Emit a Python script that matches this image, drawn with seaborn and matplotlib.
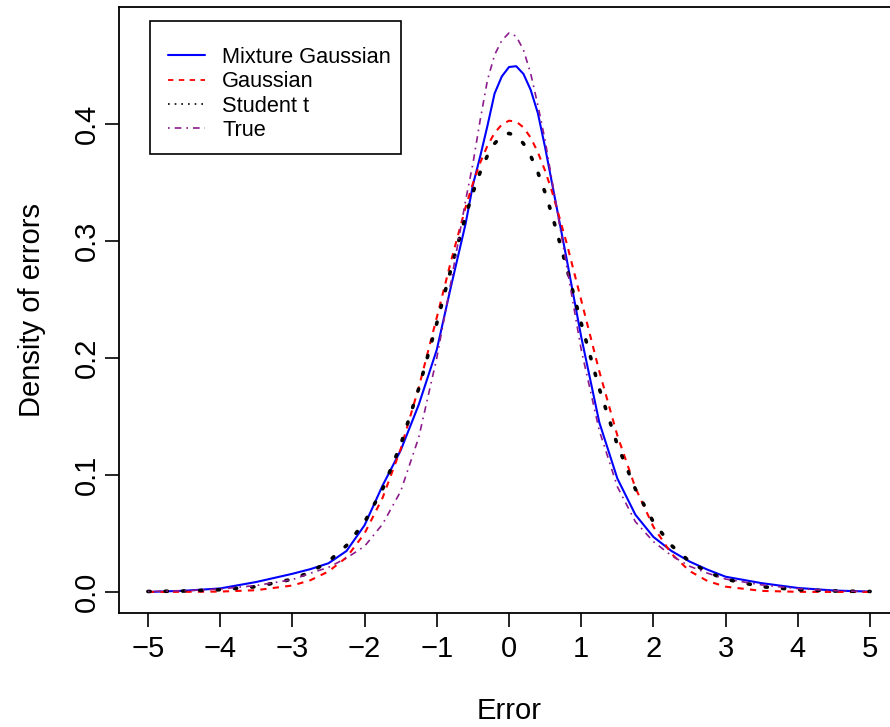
import matplotlib
matplotlib.use("Agg")
import matplotlib.pyplot as plt
from matplotlib.patches import Rectangle
from matplotlib.lines import Line2D
import seaborn as sns
import pandas as pd

err = [-5, -4.5, -4, -3.5, -3, -2.75, -2.5, -2.25, -2, -1.75, -1.5, -1.25, -1, -0.8,
       -0.6, -0.5, -0.4, -0.3, -0.2, -0.1, 0, 0.1, 0.2, 0.3, 0.4, 0.5, 0.6,
       0.8, 1, 1.25, 1.5, 1.75, 2, 2.25, 2.5, 2.75, 3, 3.5, 4, 4.5, 5]

mix_gauss = [0.0000, 0.0010, 0.0030, 0.0085, 0.0155, 0.0195, 0.0245, 0.0350, 0.0570, 0.0910, 0.1210, 0.1600, 0.2070, 0.2620,
             0.3150, 0.3478, 0.3720, 0.3980, 0.4260, 0.4406, 0.4487, 0.4494, 0.4428, 0.4292, 0.4092, 0.3800, 0.3480,
             0.2840, 0.2180, 0.1450, 0.0970, 0.0660, 0.0470, 0.0350, 0.0260, 0.0190, 0.0130, 0.0075, 0.0034, 0.0012, 0.0003]

gauss = [0.0000, 0.0001, 0.0003, 0.0015, 0.0055, 0.0100, 0.0175, 0.0295, 0.0500, 0.0805, 0.1221, 0.1747, 0.2346, 0.2835,
         0.3291, 0.3492, 0.3667, 0.3812, 0.3923, 0.3995, 0.4028, 0.4020, 0.3971, 0.3883, 0.3758, 0.3600, 0.3414,
         0.2978, 0.2494, 0.1886, 0.1338, 0.0891, 0.0556, 0.0326, 0.0179, 0.0093, 0.0045, 0.0009, 0.0001, 0.0000, 0.0000]

student_t = [0.0004, 0.0008, 0.0019, 0.0045, 0.0109, 0.0169, 0.0260, 0.0397, 0.0597, 0.0879, 0.1258, 0.1738, 0.2297, 0.2768,
             0.3215, 0.3413, 0.3586, 0.3728, 0.3833, 0.3898, 0.3920, 0.3898, 0.3833, 0.3728, 0.3586, 0.3413, 0.3215,
             0.2768, 0.2297, 0.1738, 0.1258, 0.0879, 0.0597, 0.0397, 0.0260, 0.0169, 0.0109, 0.0045, 0.0019, 0.0008, 0.0004]

true_dens = [0.0003, 0.0010, 0.0025, 0.0055, 0.0105, 0.0160, 0.0210, 0.0290, 0.0390, 0.0580, 0.0860, 0.1320, 0.2000, 0.2660,
             0.3350, 0.3660, 0.4030, 0.4370, 0.4590, 0.4714, 0.4778, 0.4750, 0.4633, 0.4432, 0.4159, 0.3860, 0.3500,
             0.2780, 0.2070, 0.1380, 0.0900, 0.0600, 0.0430, 0.0310, 0.0220, 0.0160, 0.0110, 0.0060, 0.0028, 0.0010, 0.0003]

labels = ["Mixture Gaussian", "Gaussian", "Student t", "True"]
colors = ["#0000FF", "#FF0000", "#000000", "#8B1A8B"]

df = pd.DataFrame({"Error": err, "Mixture Gaussian": mix_gauss, "Gaussian": gauss,
                   "Student t": student_t, "True": true_dens})

sns.set_style("white")
plt.rcParams["font.family"] = ["Liberation Sans", "DejaVu Sans"]
plt.rcParams["text.color"] = "black"
plt.rcParams["axes.labelcolor"] = "black"
plt.rcParams["xtick.color"] = "black"
plt.rcParams["ytick.color"] = "black"

fig = plt.figure(figsize=(8.9, 7.27), dpi=100)
ax = fig.add_axes([119 / 890, 114 / 727, 780 / 890, 606 / 727])

styles = {
    "Mixture Gaussian": dict(linestyle="-", linewidth=1.5),
    "Gaussian": dict(linestyle=(0, (3, 3)), linewidth=1.5),
    "Student t": dict(linestyle=(0, (0.6, 4.2)), linewidth=2.6, dash_capstyle="round"),
    "True": dict(linestyle=(0, (1, 3, 4, 3)), linewidth=1.2),
}
for lab, col in zip(labels, colors):
    sns.lineplot(data=df, x="Error", y=lab, ax=ax, color=col, **styles[lab])

ax.set_xlim(-5.4, 5.4)
ax.set_ylim(-0.018, 0.500)
ax.set_xticks(range(-5, 6))
ax.set_yticks([0.0, 0.1, 0.2, 0.3, 0.4])
ax.set_yticklabels(["0.0", "0.1", "0.2", "0.3", "0.4"])

for sp in ax.spines.values():
    sp.set_color("black")
    sp.set_linewidth(1.3)

ax.tick_params(axis="both", direction="out", length=10, width=1.2, color="black",
               labelsize=21, left=True, bottom=True)
ax.tick_params(axis="x", pad=6)
ax.tick_params(axis="y", pad=3, labelrotation=90)
for t in ax.get_yticklabels():
    t.set_va("center")

ax.set_xlabel("Error", fontsize=21)
ax.set_ylabel("Density of errors", fontsize=21)
ax.xaxis.set_label_coords(0.5, -0.162)
ax.xaxis.label.set_va("center")
ax.yaxis.set_label_coords(-0.112, 0.5)
ax.yaxis.label.set_va("center")

# legend keys drawn thin like R's legend(), box drawn separately
handles = [
    Line2D([], [], color=colors[0], linestyle="-", linewidth=1.5),
    Line2D([], [], color=colors[1], linestyle=(0, (3, 3)), linewidth=1.3),
    Line2D([], [], color=colors[2], linestyle=(0, (1, 3)), linewidth=1.2),
    Line2D([], [], color=colors[3], linestyle=(0, (1, 3, 4, 3)), linewidth=1.2),
]
leg = ax.legend(handles, labels, loc="upper left",
                bbox_to_anchor=(168 / 890, (727 - 47) / 727),
                bbox_transform=fig.transFigure, borderaxespad=0, borderpad=0,
                frameon=False, prop={"family": "Liberation Sans", "size": 15.7},
                handlelength=1.7, handletextpad=0.78, labelspacing=0.15)
box = Rectangle((150 / 890, (727 - 154) / 727), 251 / 890, 133 / 727,
                transform=fig.transFigure, fill=False, edgecolor="black",
                linewidth=1.2, zorder=5)
fig.patches.append(box)

fig.savefig("out.png", dpi=100)
